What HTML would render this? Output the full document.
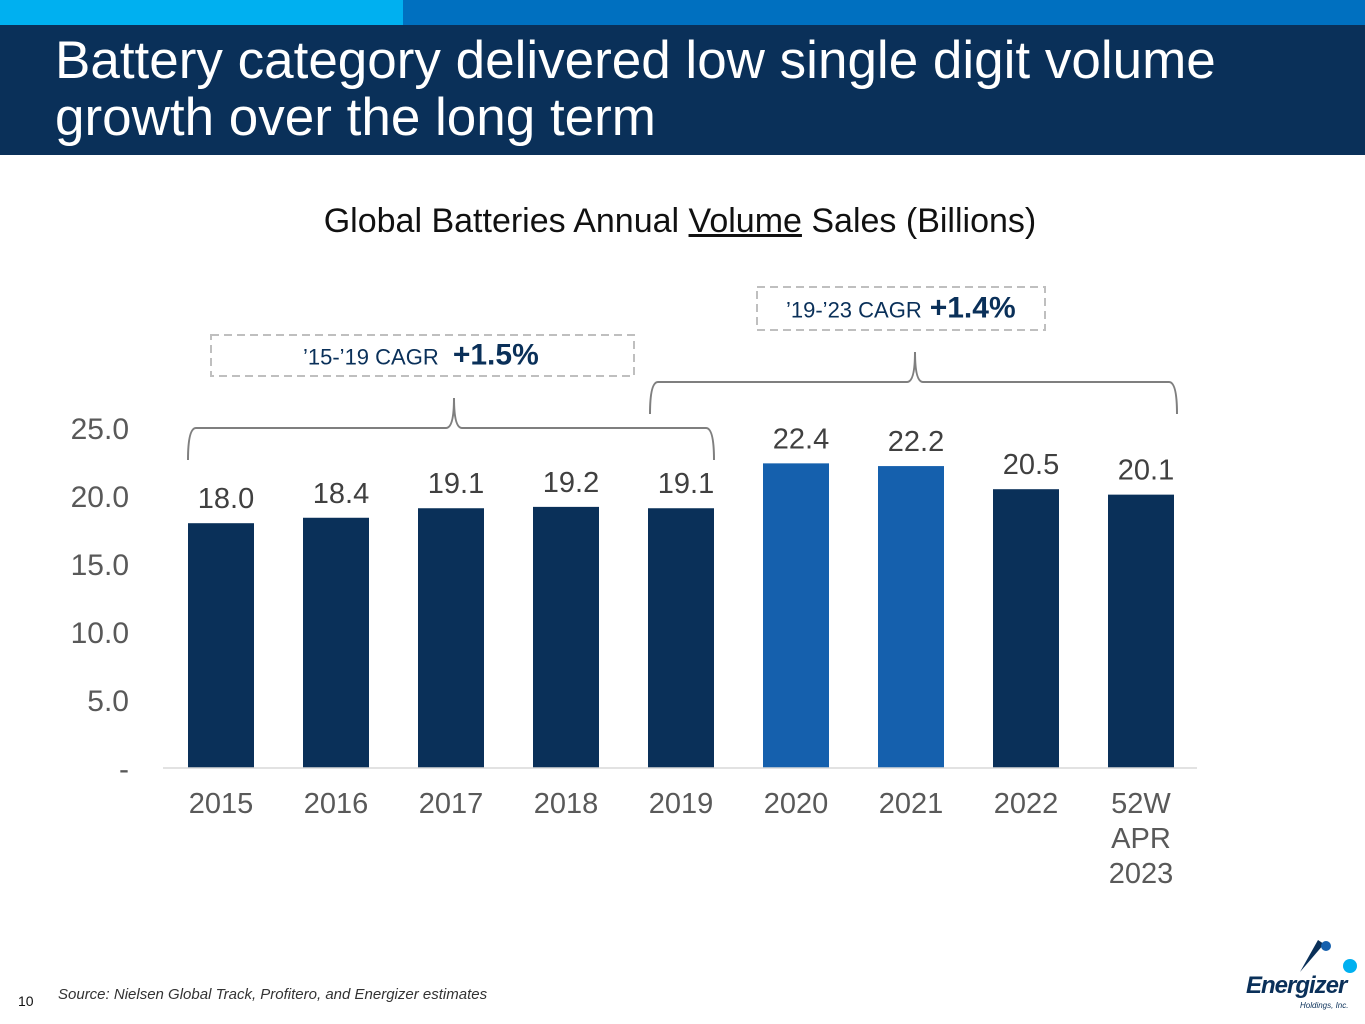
<!DOCTYPE html>
<html><head><meta charset="utf-8"><style>
body{margin:0;width:1365px;height:1024px;overflow:hidden;background:#fff;font-family:"Liberation Sans",Arial,sans-serif;position:relative}
.abs{position:absolute}
</style></head><body>
<div class="abs" style="left:0;top:0;width:403px;height:25px;background:#00b0f0"></div>
<div class="abs" style="left:403px;top:0;width:962px;height:25px;background:#0070c0"></div>
<div class="abs" style="left:0;top:25px;width:1365px;height:130px;background:#0a3059"></div>
<div class="abs" style="left:55px;top:32px;color:#fff;font-size:53px;line-height:57px">Battery category delivered low single digit volume<br>growth over the long term</div>
<div class="abs" style="left:0;width:1360px;top:202px;text-align:center;font-size:34px;color:#111">Global Batteries Annual <u>Volume</u> Sales (Billions)</div>
<svg class="abs" style="left:0;top:0" width="1365" height="1024" id="chart"></svg>
<div class="abs" style="left:18px;top:993px;font-size:14px;color:#111">10</div>
<div class="abs" style="left:58px;top:986px;font-size:15px;font-style:italic;color:#333">Source: Nielsen Global Track, Profitero, and Energizer estimates</div>
<div class="abs" style="left:1246px;top:972px;font-size:24px;font-weight:bold;font-style:italic;color:#0a3059;letter-spacing:-1px">Energizer</div>
<div class="abs" style="left:1300px;top:1001px;font-size:8px;font-style:italic;color:#0a3059">Holdings, Inc.</div>
<svg class="abs" style="left:1290px;top:932px" width="70" height="45">
<path d="M10 40 L28 8 L34 12 Z" fill="#0a3059"/><circle cx="36" cy="14" r="5" fill="#1560ad"/><circle cx="60" cy="34" r="7" fill="#00b0f0"/></svg>
<script>
const categories=["2015","2016","2017","2018","2019","2020","2021","2022","52W|APR|2023"];
const values=[18.0,18.4,19.1,19.2,19.1,22.4,22.2,20.5,20.1];
const highlighted=[false,false,false,false,false,true,true,false,false];
const yTicks=[0,5,10,15,20,25];
const yTickLabels=["-","5.0","10.0","15.0","20.0","25.0"];
const svg=document.getElementById('chart');const NS="http://www.w3.org/2000/svg";
const y0=768,pxPer=13.6,x0=221,step=115,bw=66;
const y=v=>y0-v*pxPer, x=i=>x0+i*step;
function mk(t,a){const e=document.createElementNS(NS,t);for(const k in a)e.setAttribute(k,a[k]);svg.appendChild(e);return e;}
yTicks.forEach((t,i)=>{const e=mk('text',{x:129,y:y(t)+11,'text-anchor':'end','font-size':30,fill:'#595959'});e.textContent=yTickLabels[i];

});
values.forEach((v,i)=>{const r=mk('rect',{x:x(i)-bw/2,y:y(v),width:bw,height:v*pxPer,fill:highlighted[i]?'#1560ad':'#0a3059'});


const l=mk('text',{x:x(i)+5,y:y(v)-15,'text-anchor':'middle','font-size':29,fill:'#404040'});l.textContent=v.toFixed(1);


categories[i].split('|').forEach((s,j)=>{const c=mk('text',{x:x(i),y:813+j*35,'text-anchor':'middle','font-size':29,fill:'#595959'});c.textContent=s;

});});
const ax=mk('line',{x1:163,x2:1197,y1:y0,y2:y0,stroke:'#d9d9d9','stroke-width':1.5});


function bracket(xa,xb,xm,yh,name){const p=mk('path',{d:`M${xa} ${yh+32} Q${xa} ${yh} ${xa+8} ${yh} L${xm-8} ${yh} Q${xm} ${yh} ${xm} ${yh-30} Q${xm} ${yh} ${xm+8} ${yh} L${xb-8} ${yh} Q${xb} ${yh} ${xb} ${yh+32}`,fill:'none',stroke:'#7f7f7f','stroke-width':2});

}
bracket(188,714,454,428,'bracket-15-19');bracket(650,1177,915,382,'bracket-19-23');
function box(xa,ya,w,h,lbl,val,tx,name){const r=mk('rect',{x:xa,y:ya,width:w,height:h,fill:'none',stroke:'#bfbfbf','stroke-width':2,'stroke-dasharray':'8 5'});


const t=mk('text',{x:tx,y:ya+h/2+9,'font-size':22,fill:'#0a3059'});t.innerHTML=lbl+'<tspan font-size="30" font-weight="bold" dx="8">'+val+'</tspan>';

}
box(211,335,423,41,'’15-’19 CAGR ','+1.5%',303,'cagr-box-15-19');
box(757,287,288,43,'’19-’23 CAGR','+1.4%',786,'cagr-box-19-23');
</script>
</body></html>
